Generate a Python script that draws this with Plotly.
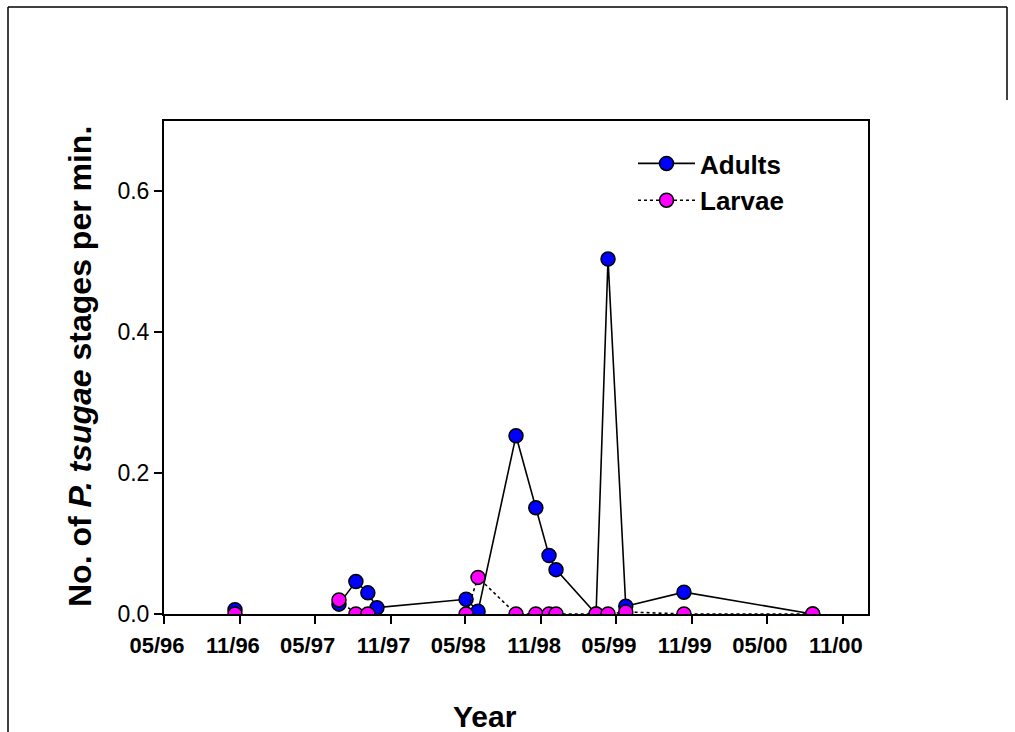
import plotly.graph_objects as go

# ---- data ----
dates = ["1996-10-20", None, "1997-06-29", "1997-08-09", "1997-09-07", "1997-09-29",
         "1998-05-03", "1998-06-01", "1998-09-01", "1998-10-19", "1998-11-20",
         "1998-12-07", "1999-03-14", "1999-04-12", "1999-05-25", "1999-10-13",
         "2000-08-20"]
adults = [0.006, None, 0.014, 0.046, 0.030, 0.009,
          0.021, 0.004, 0.253, 0.151, 0.083,
          0.063, 0.0, 0.504, 0.011, 0.031,
          0.0]
larvae = [0.0, None, 0.020, 0.0, 0.0, None,
          0.0, 0.052, 0.0, 0.0, 0.0,
          0.0, 0.0, 0.0, 0.003, 0.0,
          0.0]

x_tickvals = ["1996-05-01", "1996-11-01", "1997-05-01", "1997-11-01", "1998-05-01",
              "1998-11-01", "1999-05-01", "1999-11-01", "2000-05-01", "2000-11-01"]
x_ticktext = ["05/96", "11/96", "05/97", "11/97", "05/98",
              "11/98", "05/99", "11/99", "05/00", "11/00"]
y_tickvals = [0.0, 0.2, 0.4, 0.6]

FONT = "Liberation Sans, Arial, sans-serif"

fig = go.Figure()
fig.add_trace(go.Scatter(
    x=dates, y=adults, name="Adults", mode="lines+markers",
    connectgaps=False,
    line=dict(color="black", width=1.6),
    marker=dict(symbol="circle", size=14, color="#0000FF",
                line=dict(color="black", width=1.5)),
))
fig.add_trace(go.Scatter(
    x=dates, y=larvae, name="Larvae", mode="lines+markers",
    connectgaps=False,
    line=dict(color="black", width=1.6, dash="dot"),
    marker=dict(symbol="circle", size=14, color="#FF00FF",
                line=dict(color="black", width=1.5)),
))

L, R, T, B = 164, 868, 121, 614
W, H = 1015, 732
pw, ph = R - L, B - T


def px(x):
    return (x - L) / pw


def py(y):
    return (B - y) / ph


fig.update_layout(
    width=W, height=H,
    margin=dict(l=L, r=W - R, t=T, b=H - B, pad=0),
    paper_bgcolor="white", plot_bgcolor="white",
    font=dict(family=FONT, color="black"),
    showlegend=True,
    legend=dict(
        x=px(633), y=py(140), xanchor="left", yanchor="top",
        bgcolor="rgba(0,0,0,0)", borderwidth=0,
        font=dict(family=FONT, size=26, color="black", weight="bold"),
        itemwidth=57, tracegroupgap=0,
    ),
    xaxis=dict(
        type="date",
        range=["1996-05-01", "2001-01-01"],
        tickmode="array", tickvals=x_tickvals, ticktext=x_ticktext,
        ticks="outside", ticklen=8, tickwidth=2, tickcolor="black",
        showline=True, linecolor="black", linewidth=2, mirror=True,
        showgrid=False, zeroline=False,
        tickfont=dict(family=FONT, size=22, color="black", weight="bold"),
        ticklabelshift=-7, ticklabelstandoff=3,
    ),
    yaxis=dict(
        range=[0, 0.7],
        tickmode="array", tickvals=y_tickvals, tickformat=".1f",
        ticks="outside", ticklen=8, tickwidth=2, tickcolor="black",
        showline=True, linecolor="black", linewidth=2, mirror=True,
        showgrid=False, zeroline=False,
        tickfont=dict(family=FONT, size=23, color="black"),
    ),
    annotations=[
        dict(text="<b>Year</b>", xref="paper", yref="paper",
             x=px(485), y=py(716), xanchor="center", yanchor="middle",
             showarrow=False, font=dict(family=FONT, size=30, color="black")),
        dict(text="<b>No. of <i>P. tsugae</i> stages per min.</b>",
             xref="paper", yref="paper", textangle=-90,
             x=px(80), y=py(367), xanchor="center", yanchor="middle",
             showarrow=False, font=dict(family=FONT, size=32, color="black")),
    ],
    shapes=[
        dict(type="line", xref="paper", yref="paper",
             x0=px(8), x1=px(1007), y0=py(7), y1=py(7),
             line=dict(color="black", width=1.5)),
        dict(type="line", xref="paper", yref="paper",
             x0=px(8), x1=px(8), y0=py(7), y1=py(740),
             line=dict(color="black", width=1.5)),
        dict(type="line", xref="paper", yref="paper",
             x0=px(1007), x1=px(1007), y0=py(7), y1=py(100),
             line=dict(color="black", width=1.5)),
    ],
)

fig.write_html("out.html")
